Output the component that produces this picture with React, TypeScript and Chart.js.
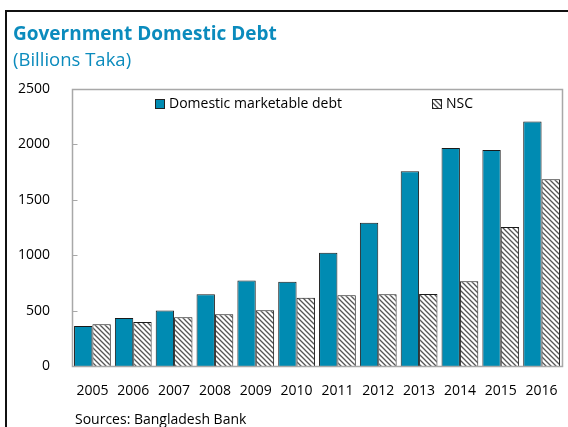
import React, { useEffect, useRef } from "react";
import { Chart, registerables } from "chart.js";

Chart.register(...registerables);

const years = ["2005", "2006", "2007", "2008", "2009", "2010", "2011", "2012", "2013", "2014", "2015", "2016"];
const marketableDebt = [361, 433, 502, 648, 772, 760, 1022, 1292, 1757, 1967, 1950, 2206];
const nscDebt = [376, 397, 439, 466, 504, 616, 639, 647, 650, 764, 1254, 1685];
const yTicks = [0, 500, 1000, 1500, 2000, 2500];
const seriesNames = ["Domestic marketable debt", "NSC"];

const BLUE = "#008bb2";
const TITLE_BLUE = "#0b8bbd";
const FONT = "'Open Sans', sans-serif";

function makeHatch(ctx: CanvasRenderingContext2D): CanvasPattern | string {
  const size = 5;
  const c = document.createElement("canvas");
  c.width = size;
  c.height = size;
  const g = c.getContext("2d");
  if (!g) return "#ffffff";
  g.fillStyle = "#ffffff";
  g.fillRect(0, 0, size, size);
  g.strokeStyle = "#555555";
  g.lineWidth = 1.3;
  g.beginPath();
  g.moveTo(-1, -1);
  g.lineTo(size + 1, size + 1);
  g.moveTo(-1, size - 1);
  g.lineTo(1, size + 1);
  g.moveTo(size - 1, -1);
  g.lineTo(size + 1, 1);
  g.stroke();
  return ctx.createPattern(c, "repeat") || "#ffffff";
}

export default function App() {
  const ref = useRef<HTMLCanvasElement>(null);

  useEffect(() => {
    const canvas = ref.current;
    if (!canvas) return;
    const ctx = canvas.getContext("2d");
    if (!ctx) return;
    const hatch = makeHatch(ctx);

    const decor = {
      id: "decor",
      afterDraw(chart: any) {
        const c = chart.ctx as CanvasRenderingContext2D;
        const a = chart.chartArea;
        const ys = chart.scales.y;
        c.save();
        c.strokeStyle = "#a8a8a8";
        c.lineWidth = 1.5;
        const L = Math.round(a.left) + 0.5;
        const T = Math.round(a.top) + 0.5;
        const R = Math.round(a.right) + 0.5;
        const B = Math.round(a.bottom) + 0.5;
        c.beginPath();
        c.moveTo(L, T);
        c.lineTo(R, T);
        c.lineTo(R, B);
        c.lineTo(L, B);
        c.closePath();
        c.stroke();
        c.lineWidth = 1;
        yTicks.forEach((v) => {
          const y = Math.round(ys.getPixelForValue(v)) + 0.5;
          c.beginPath();
          c.moveTo(L, y);
          c.lineTo(L + 5, y);
          c.stroke();
        });
        // legend
        const ly = a.top + 15;
        c.font = "14px " + FONT;
        c.textBaseline = "middle";
        c.fillStyle = BLUE;
        c.fillRect(a.left + 83, ly - 5, 10, 10);
        c.strokeStyle = "#222";
        c.strokeRect(a.left + 83.5, ly - 4.5, 9, 9);
        c.fillStyle = "#000";
        c.fillText(seriesNames[0], a.left + 97, ly);
        c.fillStyle = hatch as any;
        c.fillRect(a.left + 360, ly - 5, 10, 10);
        c.strokeRect(a.left + 360.5, ly - 4.5, 9, 9);
        c.fillStyle = "#000";
        c.fillText(seriesNames[1], a.left + 374, ly);
        c.restore();
      },
    };

    const chart = new Chart(canvas, {
      type: "bar",
      data: {
        labels: years,
        datasets: [
          {
            label: seriesNames[0],
            data: marketableDebt,
            backgroundColor: BLUE,
            borderColor: "#1a1a1a",
            borderWidth: 1,
            categoryPercentage: 0.9,
            barPercentage: 1.0,
          },
          {
            label: seriesNames[1],
            data: nscDebt,
            backgroundColor: hatch as any,
            borderColor: "#1a1a1a",
            borderWidth: 1,
            categoryPercentage: 0.9,
            barPercentage: 1.0,
          },
        ],
      },
      options: {
        animation: false,
        responsive: false,
        maintainAspectRatio: false,
        layout: { padding: { top: 89, right: 6, bottom: 21, left: 0 } },
        plugins: { legend: { display: false }, title: { display: false }, tooltip: { enabled: false } },
        scales: {
          x: {
            grid: { display: false },
            border: { display: false },
            ticks: { color: "#000", font: { family: FONT, size: 14 }, padding: 9 },
            afterFit: (s: any) => {
              s.height = 40;
            },
          },
          y: {
            min: 0,
            max: 2500,
            grid: { display: false },
            border: { display: false },
            afterBuildTicks: (s: any) => {
              s.ticks = yTicks.map((v) => ({ value: v }));
            },
            ticks: {
              color: "#000",
              font: { family: FONT, size: 14 },
              padding: 14,
              callback: (v: any) => String(v),
            },
            afterFit: (s: any) => {
              s.width = 72;
            },
          },
        },
      },
      plugins: [decor],
    });
    return () => chart.destroy();
  }, []);

  return (
    <div style={{ position: "fixed", left: 0, top: 0, width: 568, height: 427, background: "#fff", overflow: "hidden" }}>
      <div style={{ position: "absolute", left: 5, top: 10, width: 563, height: 2, background: "#111" }} />
      <div style={{ position: "absolute", left: 5, top: 10, width: 2, height: 417, background: "#111" }} />
      <canvas ref={ref} width={568} height={427} style={{ position: "absolute", left: 0, top: 0 }} />
      <div
        style={{
          position: "absolute",
          left: 13,
          top: 21,
          fontFamily: FONT,
          fontWeight: 700,
          fontSize: 19,
          color: TITLE_BLUE,
          whiteSpace: "nowrap",
          lineHeight: "24px",
        }}
      >
        Government Domestic Debt
      </div>
      <div
        style={{
          position: "absolute",
          left: 13,
          top: 47,
          fontFamily: FONT,
          fontSize: 18.5,
          color: TITLE_BLUE,
          whiteSpace: "nowrap",
          lineHeight: "24px",
        }}
      >
        (Billions Taka)
      </div>
      <div
        style={{
          position: "absolute",
          left: 75,
          top: 409,
          fontFamily: FONT,
          fontSize: 14,
          color: "#000",
          whiteSpace: "nowrap",
          lineHeight: "20px",
        }}
      >
        Sources: Bangladesh Bank
      </div>
    </div>
  );
}
